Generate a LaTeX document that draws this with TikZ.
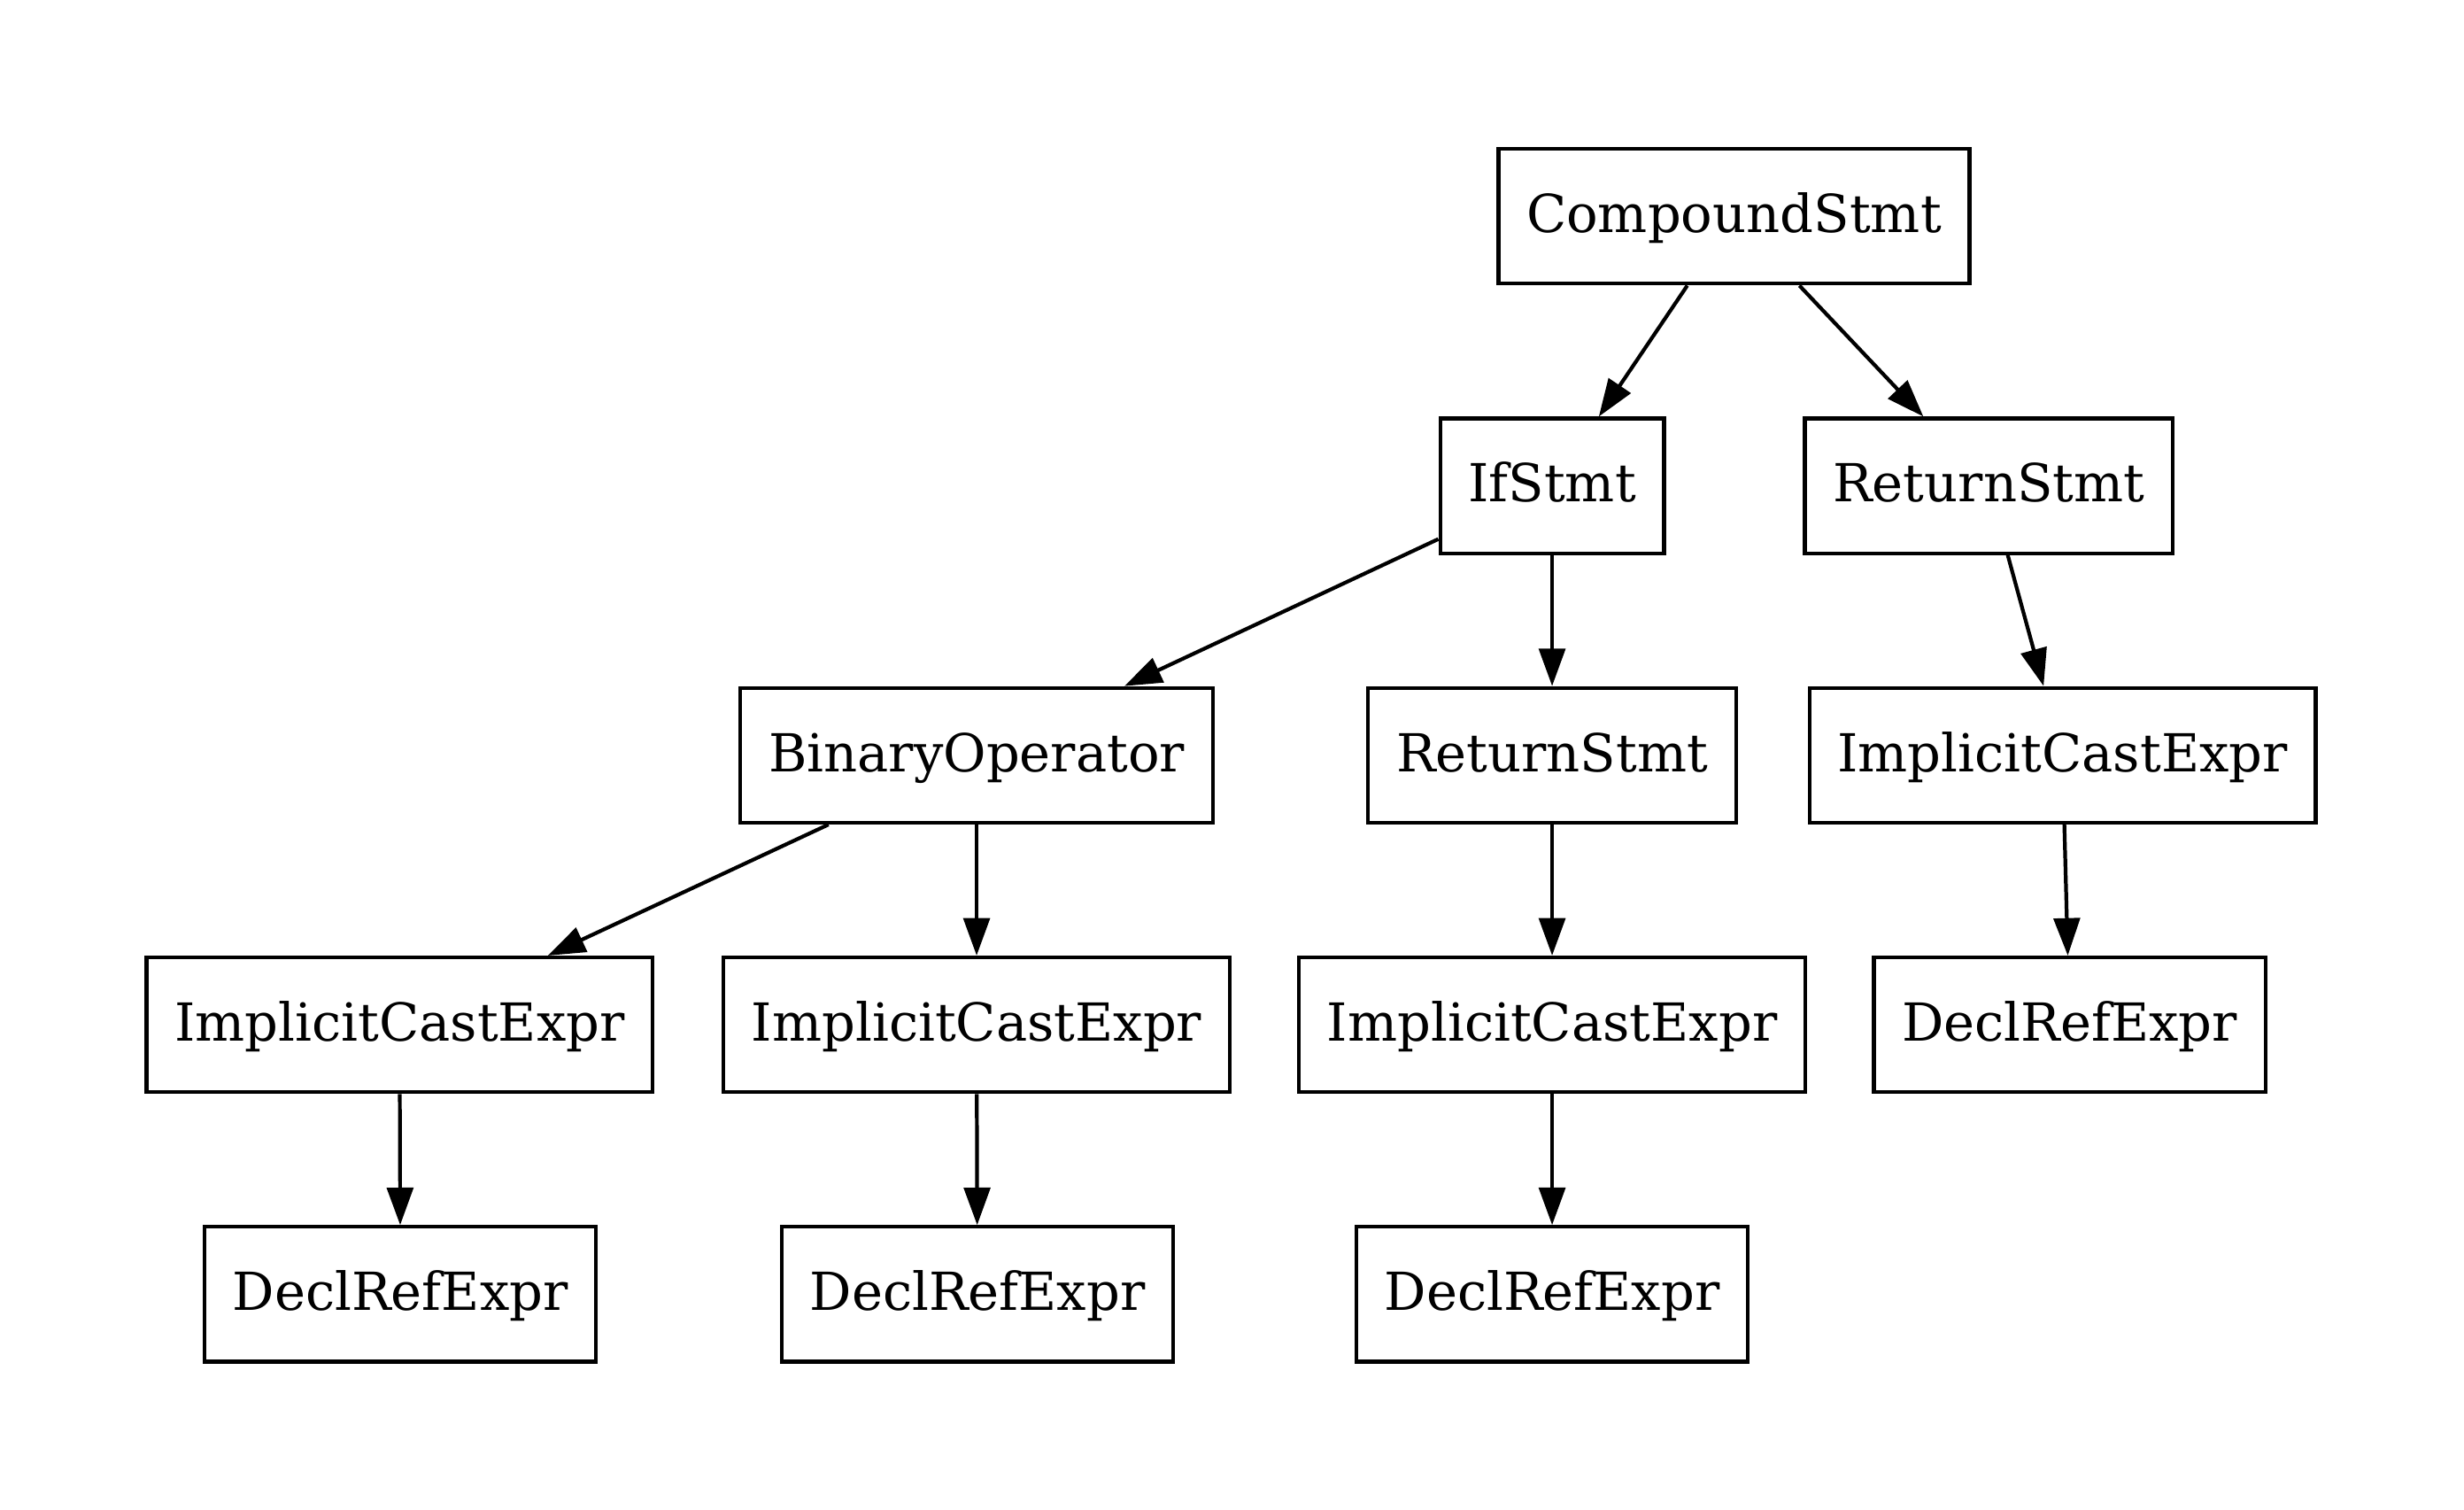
\documentclass[tikz,border=0pt]{standalone}
\usepackage{fontspec}
\setmainfont{DejaVu Serif}
\usetikzlibrary{arrows.meta}

\tikzset{
  astnode/.style={draw, rectangle, line width=1pt, minimum height=36pt,
    inner xsep=7.5pt, text height=11pt, text depth=2.4pt,
    font=\fontsize{14pt}{16pt}\selectfont},
  astedge/.style={-{Triangle[length=10pt,width=7pt]}, line width=1pt},
}

\begin{document}
\begin{tikzpicture}[x=1pt, y=-1pt]
  \useasboundingbox (0,0) rectangle (658.5,403.2);

  % Statements
  \node[astnode] (cs)   at (463.4, 57.8)  {CompoundStmt};
  \node[astnode] (ifs)  at (414.8, 129.8) {IfStmt};
  \node[astnode] (ret)  at (531.5, 129.8) {ReturnStmt};

  \node[astnode] (bin)  at (261.0, 201.8) {BinaryOperator};
  \node[astnode] (ret2) at (414.8, 201.8) {ReturnStmt};
  \node[astnode] (ice)  at (551.2, 201.8) {ImplicitCastExpr};

  % Casts and references
  \node[astnode] (ice1) at (106.8, 273.8) {ImplicitCastExpr};
  \node[astnode] (ice2) at (261.0, 273.8) {ImplicitCastExpr};
  \node[astnode] (ice3) at (414.8, 273.8) {ImplicitCastExpr};
  \node[astnode] (dre)  at (553.1, 273.8) {DeclRefExpr};

  \node[astnode] (dre1) at (107.0, 345.8) {DeclRefExpr};
  \node[astnode] (dre2) at (261.2, 345.8) {DeclRefExpr};
  \node[astnode] (dre3) at (414.8, 345.8) {DeclRefExpr};

  \draw[astedge] (cs) -- (ifs);
  \draw[astedge] (cs) -- (ret);
  \draw[astedge] (ifs) -- (bin);
  \draw[astedge] (ifs) -- (ret2);
  \draw[astedge] (ret) -- (ice);
  \draw[astedge] (bin) -- (ice1);
  \draw[astedge] (bin) -- (ice2);
  \draw[astedge] (ret2) -- (ice3);
  \draw[astedge] (ice) -- (dre);
  \draw[astedge] (ice1) -- (dre1);
  \draw[astedge] (ice2) -- (dre2);
  \draw[astedge] (ice3) -- (dre3);
\end{tikzpicture}
\end{document}
